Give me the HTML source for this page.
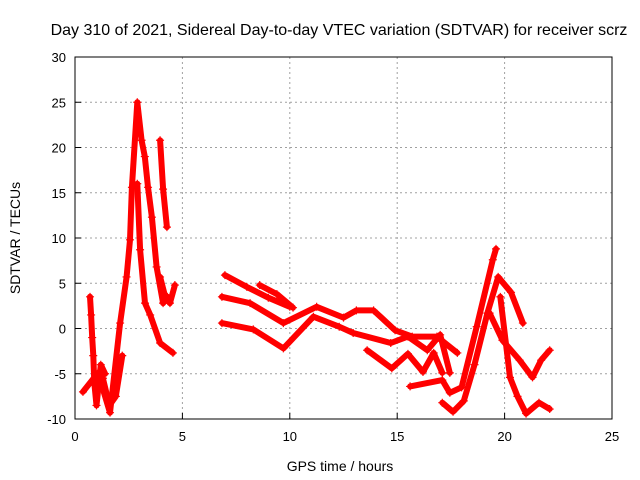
<!DOCTYPE html>
<html><head><meta charset="utf-8"><style>
body{margin:0;background:#fff}
svg{display:block;font-family:"Liberation Sans",sans-serif}
</style></head><body>
<svg id="chart" width="640" height="480">
<text x="339" y="35" text-anchor="middle" font-size="16">Day 310 of 2021, Sidereal Day-to-day VTEC variation (SDTVAR) for receiver scrz</text>
<text x="340" y="471" text-anchor="middle" font-size="14">GPS time / hours</text>
<text transform="translate(20,238) rotate(-90)" text-anchor="middle" font-size="14">SDTVAR / TECUs</text>
<g id="grid"></g>
<g id="marks"></g>
<rect x="75" y="57" width="537" height="362" fill="none" stroke="#000" stroke-width="1"/>
</svg>
<script>
const xTicks=[0,5,10,15,20,25];
const yTicks=[-10,-5,0,5,10,15,20,25,30];
const seriesHours=[
[0.37,1.07,1.63,2.1,2.4,2.56,2.65,2.9,3.1,3.25,3.4,3.58,3.8,4.1,4.3],
[2.9,3.03,3.26,3.5,3.96,4.56],
[3.96,4.1,4.28],
[3.96,4.2,4.42,4.65],
[0.7,0.75,0.8,0.85,0.9,1.0,1.2,1.4],
[1.0,1.3,1.6,1.9,2.2],
[6.98,8.0,9.0,10.0],
[8.6,9.4,10.15],
[6.84,8.15,9.7,11.25,12.5,13.1,13.9,14.9,15.7,16.85,17.8],
[6.84,8.3,9.7,11.1,12.3,12.95,14.7,15.5,16.4,17.0,17.45],
[13.6,14.75,15.5,16.2,16.7,17.1],
[15.6,17.1,17.45,18.0,18.7,19.45,19.6],
[17.1,17.6,18.1,18.6,19.2,19.7,20.3,20.85],
[19.3,19.9,20.7,21.3,21.7,22.1],
[19.8,20.25,20.6,21.0,21.6,22.1]
];
const seriesValues=[
[-7.0,-4.9,-9.3,0.6,5.7,9.8,15.6,25,20.8,19,15.6,12.3,6.8,2.8,3.5],
[16,8.7,2.8,1.5,-1.6,-2.7],
[20.8,15.4,11.2],
[5.7,3.5,2.8,4.8],
[3.5,1.5,-1,-3,-6,-8.5,-4,-5],
[-6.5,-5.5,-8.5,-7.5,-3],
[5.9,4.6,3.4,2.4],
[4.8,3.8,2.3],
[3.5,2.8,0.6,2.4,1.2,2.0,2.0,-0.2,-0.9,-0.9,-2.7],
[0.6,-0.1,-2.2,1.3,0.2,-0.5,-1.6,-0.9,-2.4,-0.7,-4.9],
[-2.4,-4.4,-2.8,-4.8,-2.7,-4.9],
[-6.4,-5.7,-7.1,-6.5,0.2,7.6,8.8],
[-8.2,-9.2,-8.0,-4.0,1.7,5.7,4.0,0.6],
[1.7,-1.3,-3.5,-5.4,-3.5,-2.4],
[3.5,-5.4,-7.5,-9.4,-8.2,-8.9]
];
const NS="http://www.w3.org/2000/svg";
const X0=75,X1=612,Y0=419,Y1=57;
function sx(h){return X0+(h-0)/(25-0)*(X1-X0);}
function sy(v){return Y0-(v-(-10))/(30-(-10))*(Y0-Y1);}
const grid=document.getElementById('grid');
const svg=document.getElementById('chart');
function mk(tag,attrs,parent){const e=document.createElementNS(NS,tag);for(const k in attrs)e.setAttribute(k,attrs[k]);parent.appendChild(e);return e;}
xTicks.forEach(t=>{
  const x=sx(t);
  if(t>0&&t<25){const g=mk('line',{x1:x,x2:x,y1:Y1,y2:Y0,stroke:'#a0a0a0','stroke-dasharray':'2,3','stroke-width':1},grid);
  
  }
  const tk=mk('line',{x1:x,x2:x,y1:Y0,y2:Y0-6,stroke:'#000'},grid);
  
  
  const tx=mk('text',{x:x,y:Y0+22,'text-anchor':'middle','font-size':13},svg);
  tx.textContent=t;
  
  
});
yTicks.forEach(t=>{
  const y=sy(t);
  if(t>-10&&t<30){const g=mk('line',{x1:X0,x2:X1,y1:y,y2:y,stroke:'#a0a0a0','stroke-dasharray':'2,3','stroke-width':1},grid);
  
  }
  const tk=mk('line',{x1:X0,x2:X0+6,y1:y,y2:y,stroke:'#000'},grid);
  
  
  const tx=mk('text',{x:X0-9,y:y+5,'text-anchor':'end','font-size':13},svg);
  tx.textContent=t;
  
  
});
const marks=document.getElementById('marks');
seriesHours.forEach((hs,i)=>{
  const vs=seriesValues[i];
  const pts=hs.map((h,j)=>sx(h).toFixed(1)+','+sy(vs[j]).toFixed(1)).join(' ');
  const pl=mk('polyline',{points:pts,fill:'none',stroke:'#ff0000','stroke-width':6,'stroke-linejoin':'round','stroke-linecap':'round'},marks);
  
  
  hs.forEach((h,j)=>{
    const x=sx(h),y=sy(vs[j]);
    const p=mk('path',{d:`M${x-4},${y}h8M${x},${y-4}v8`,stroke:'#ff0000','stroke-width':1.2},marks);
    
    
  });
});
</script>
</body></html>
